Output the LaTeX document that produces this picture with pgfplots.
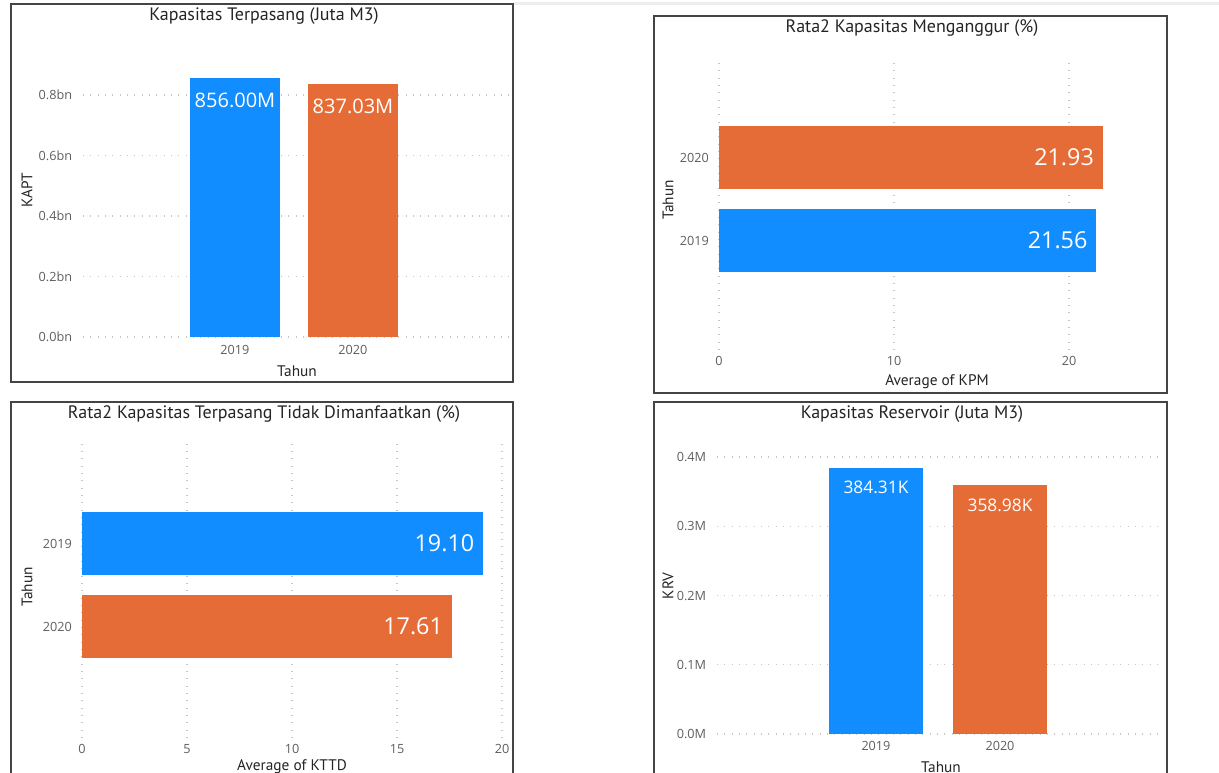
\documentclass[border=0pt]{standalone}
\usepackage{fontspec}
\setmainfont{Open Sans}
\newfontfamily\titlefont{PT Sans}
\usepackage{pgfplots}
\pgfplotsset{compat=1.18}

\definecolor{pbblue}{HTML}{118DFF}
\definecolor{pborange}{HTML}{E66C37}
\definecolor{titlec}{HTML}{252423}
\definecolor{tickc}{HTML}{605E5C}
\definecolor{gridc}{HTML}{C8C6C4}
\definecolor{framec}{HTML}{444444}

% common look of the four panels
\pgfplotsset{
  pbi/.style={
    scale only axis,
    anchor=south west,
    axis line style={draw=none},
    tick style={draw=none},
    grid style={gridc, line width=0.9pt, dash pattern=on 0.8pt off 4.7pt},
    tick label style={font=\fontsize{9.5}{11}\selectfont, text=tickc, inner sep=0pt},
    clip=false,
  },
  vbars/.style={pbi, ymajorgrids, xtick={0,1}, xticklabels={2019,2020},
    xticklabel style={anchor=north, yshift=-6pt},
    yticklabel style={anchor=east, xshift=-8pt}},
  hbars/.style={pbi, xmajorgrids,
    xticklabel style={anchor=north, yshift=-4.5pt},
    yticklabel style={anchor=east, xshift=-7.5pt}},
  barlab/.style={point meta=explicit symbolic, nodes near coords,
    every node near coord/.append style={text=white, inner sep=0pt, #1}},
}

\begin{document}
% 1 unit = 1 pixel of the 1219x773 reference, origin bottom left
\begin{tikzpicture}[x=0.75pt, y=0.75pt]
\useasboundingbox (0,0) rectangle (1219,773);
\clip (0,0) rectangle (1219,773);

% shadow strip and panel frames
\draw[line width=2.5pt, color=black!7] (513,769.5) -- (1219,769.5);
\draw[framec, line width=0.9pt] (11,769) rectangle (513,391);
\draw[framec, line width=1.2pt] (654,757) rectangle (1167,380);
\draw[framec, line width=0.9pt] (11,371) rectangle (513,-30);
\draw[framec, line width=1.2pt] (654,371) rectangle (1167,-30);

% ---------- Kapasitas Terpasang ----------
\begin{axis}[vbars, at={(62.25pt,327pt)}, width=320.25pt, height=204.19pt,
  xmin=-1.288, xmax=2.331, ymin=0, ymax=0.9,
  ytick={0,0.2,0.4,0.6,0.8}, yticklabels={0.0bn,0.2bn,0.4bn,0.6bn,0.8bn}]
\addplot[ybar, bar shift=0pt, bar width=67.5pt, fill=pbblue, draw=none,
  barlab={anchor=north, yshift=-11pt, font=\fontsize{15}{17}\selectfont}]
  coordinates {(0,0.856) [856.00M]};
\addplot[ybar, bar shift=0pt, bar width=67.5pt, fill=pborange, draw=none,
  barlab={anchor=north, yshift=-11pt, font=\fontsize{15}{17}\selectfont}]
  coordinates {(1,0.83703) [837.03M]};
\end{axis}

% ---------- Rata2 Kapasitas Menganggur ----------
\begin{axis}[hbars, at={(539.25pt,317.25pt)}, width=328.125pt, height=219.75pt,
  xmin=0, xmax=25, ymin=-1.319, ymax=2.211,
  xtick={0,10,20}, xticklabels={0,10,20},
  ytick={0,1}, yticklabels={2019,2020}]
\addplot[xbar, bar shift=0pt, bar width=47.25pt, fill=pbblue, draw=none,
  barlab={anchor=east, xshift=-6.5pt, font=\fontsize{17.5}{20}\selectfont}]
  coordinates {(21.56,0) [21.56]};
\addplot[xbar, bar shift=0pt, bar width=47.25pt, fill=pborange, draw=none,
  barlab={anchor=east, xshift=-6.5pt, font=\fontsize{17.5}{20}\selectfont}]
  coordinates {(21.93,1) [21.93]};
\end{axis}

% ---------- Rata2 Kapasitas Terpasang Tidak Dimanfaatkan ----------
\begin{axis}[hbars, at={(61.5pt,26.25pt)}, width=321pt, height=222pt,
  xmin=0, xmax=20.38, ymin=-1.343, ymax=2.223,
  xtick={0,5,10,15,20}, xticklabels={0,5,10,15,20},
  ytick={0,1}, yticklabels={2020,2019}]
\addplot[xbar, bar shift=0pt, bar width=47.25pt, fill=pbblue, draw=none,
  barlab={anchor=east, xshift=-6.5pt, font=\fontsize{17.5}{20}\selectfont}]
  coordinates {(19.10,1) [19.10]};
\addplot[xbar, bar shift=0pt, bar width=47.25pt, fill=pborange, draw=none,
  barlab={anchor=east, xshift=-6.5pt, font=\fontsize{17.5}{20}\selectfont}]
  coordinates {(17.61,0) [17.61]};
\end{axis}

% ---------- Kapasitas Reservoir ----------
\begin{axis}[vbars, at={(537.75pt,29.25pt)}, width=333.7pt, height=218.1pt,
  xmin=-1.282, xmax=2.306, ymin=0, ymax=0.42,
  xticklabel style={yshift=0.5pt},
  ytick={0,0.1,0.2,0.3,0.4}, yticklabels={0.0M,0.1M,0.2M,0.3M,0.4M}]
\addplot[ybar, bar shift=0pt, bar width=70.5pt, fill=pbblue, draw=none,
  barlab={anchor=north, yshift=-9.75pt, font=\fontsize{13}{15}\selectfont}]
  coordinates {(0,0.38431) [384.31K]};
\addplot[ybar, bar shift=0pt, bar width=70.5pt, fill=pborange, draw=none,
  barlab={anchor=north, yshift=-9.75pt, font=\fontsize{13}{15}\selectfont}]
  coordinates {(1,0.35898) [358.98K]};
\end{axis}

% titles and axis titles
\begin{scope}[every node/.style={text=titlec, inner sep=0pt}]
\node[font=\titlefont\fontsize{13.5}{15}\selectfont] at (264,757) {Kapasitas Terpasang (Juta M3)};
\node[font=\titlefont\fontsize{13.5}{15}\selectfont] at (912,745) {Rata2 Kapasitas Menganggur (\%)};
\node[font=\titlefont\fontsize{13.5}{15}\selectfont] at (264,359) {Rata2 Kapasitas Terpasang Tidak Dimanfaatkan (\%)};
\node[font=\titlefont\fontsize{13.5}{15}\selectfont] at (912,359) {Kapasitas Reservoir (Juta M3)};
\node[font=\titlefont\fontsize{11.5}{13}\selectfont] at (297,402) {Tahun};
\node[font=\titlefont\fontsize{11.5}{13}\selectfont, rotate=90] at (27,583) {KAPT};
\node[font=\titlefont\fontsize{11.5}{13}\selectfont] at (937,391) {Average of KPM};
\node[font=\titlefont\fontsize{11.5}{13}\selectfont, rotate=90] at (668,573) {Tahun};
\node[font=\titlefont\fontsize{11.5}{13}\selectfont] at (292,6) {Average of KTTD};
\node[font=\titlefont\fontsize{11.5}{13}\selectfont, rotate=90] at (27,186) {Tahun};
\node[font=\titlefont\fontsize{11.5}{13}\selectfont] at (941,6) {Tahun};
\node[font=\titlefont\fontsize{11.5}{13}\selectfont, rotate=90] at (668,187) {KRV};
\end{scope}
\end{tikzpicture}
\end{document}
